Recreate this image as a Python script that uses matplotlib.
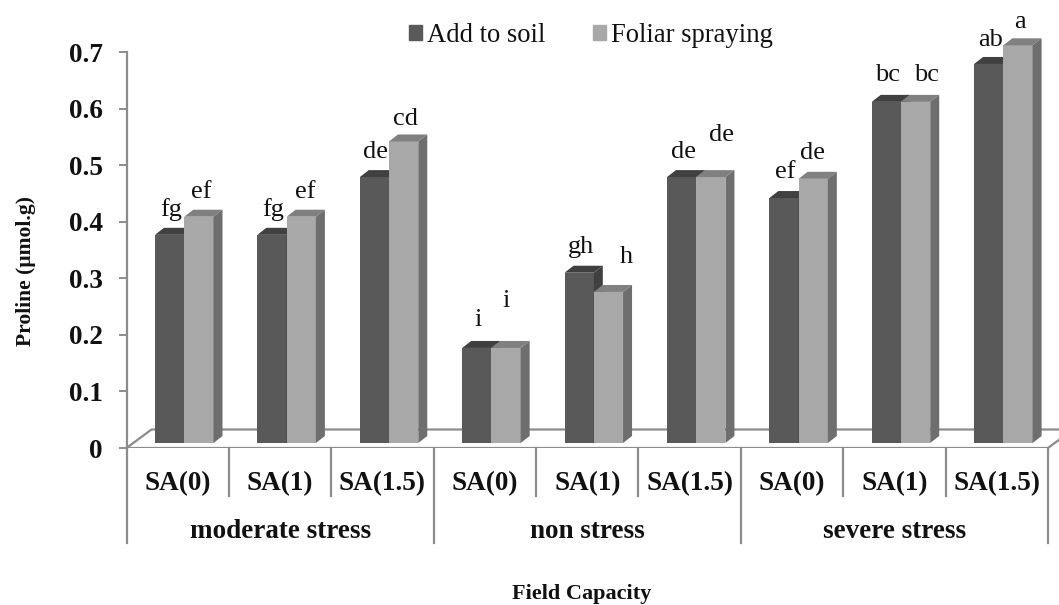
import matplotlib
matplotlib.use("Agg")
from matplotlib import pyplot as plt
from matplotlib.patches import Patch, Polygon
import numpy as np

plt.rcParams['font.family'] = ['Liberation Serif', 'DejaVu Sans']

sa_levels = ["SA(0)", "SA(1)", "SA(1.5)"] * 3
stress_groups = ["moderate stress", "non stress", "severe stress"]
add_to_soil = [0.368, 0.368, 0.47, 0.168, 0.301, 0.47, 0.433, 0.603, 0.67]
foliar = [0.40, 0.40, 0.533, 0.168, 0.267, 0.47, 0.467, 0.603, 0.703]
letters_soil = ["fg", "fg", "de", "i", "gh", "de", "ef", "bc", "ab"]
letters_foliar = ["ef", "ef", "cd", "i", "h", "de", "de", "bc", "a"]

# letter offsets from the top of the bar, in pixels
soil_dy = [25, 25, 25, 28, 26, 25, 26, 27, 24]
foliar_dx = [2, 4, 2, 0, 18, 11, -1, 11, 2]
foliar_dy = [25, 25, 22, 47, 35, 42, 26, 27, 23]

W, H = 1059, 605
AX_L, AX_R, AX_T, AX_B = 126.5, 1048, 52, 448
GRAY = "#8c8c8c"
TXT = "#111111"
DARK, DARK_TOP = "#595959", "#404040"
LIGHT, LIGHT_TOP, LIGHT_SIDE = "#a8a8a8", "#808080", "#6e6e6e"

fig = plt.figure(figsize=(W / 100, H / 100), dpi=100)
ax = fig.add_axes([AX_L / W, 1 - AX_B / H, (AX_R - AX_L) / W, (AX_B - AX_T) / H])
ax.set_xlim(0, 9)
ax.set_ylim(0, 0.7)

px_x = 9 / (AX_R - AX_L)
px_y = 0.7 / (AX_B - AX_T)
x = np.arange(9)
base = 5 * px_y
bar_w = 29.25 * px_x
start = (155 - AX_L) * px_x
depth_x, depth_y = 9 * px_x, 7 * px_y

# floor of the 3d box
floor_x, floor_y = 25 * px_x, 18.5 * px_y
ax.plot([0, floor_x, 9 + floor_x * 2], [0, floor_y, floor_y], color=GRAY, lw=1.6, clip_on=False, zorder=1)
ax.plot([9, 9 + floor_x], [0, floor_y], color=GRAY, lw=1.6, clip_on=False, zorder=1)


def box(left, val, front, top, side):
    b = ax.bar(left, val, bar_w, bottom=base, align='edge', color=front, zorder=3, clip_on=False)[0]
    r = left + bar_w
    y1 = val + base
    ax.add_patch(Polygon([(left, y1), (left + depth_x, y1 + depth_y), (r + depth_x, y1 + depth_y), (r, y1)],
                         color=top, lw=0, zorder=3, clip_on=False))
    ax.add_patch(Polygon([(r, base), (r + depth_x, base + depth_y), (r + depth_x, y1 + depth_y), (r, y1)],
                         color=side, lw=0, zorder=3, clip_on=False))
    return b


for i in x:
    box(i + start, add_to_soil[i], DARK, DARK_TOP, DARK_TOP)
    box(i + start + bar_w, foliar[i], LIGHT, LIGHT_TOP, LIGHT_SIDE)

    ax.annotate(letters_soil[i], (i + start + bar_w / 2, add_to_soil[i] + base),
                xytext=(1.5 * 0.72, soil_dy[i] * 0.72), textcoords='offset points', annotation_clip=False,
                ha='center', va='center', fontsize=19, color=TXT, zorder=5)
    ax.annotate(letters_foliar[i], (i + start + bar_w * 1.5, foliar[i] + base),
                xytext=(foliar_dx[i] * 0.72, foliar_dy[i] * 0.72), textcoords='offset points', annotation_clip=False,
                ha='center', va='center', fontsize=19, color=TXT, zorder=5)

# axes
for s in ['top', 'right', 'bottom']:
    ax.spines[s].set_visible(False)
ax.spines['left'].set_color(GRAY)
ax.spines['left'].set_linewidth(1.6)
ax.axhline(0, color=GRAY, lw=1.6, zorder=2)
ax.set_yticks(np.arange(0, 0.71, 0.1))
ax.set_yticklabels(["0", "0.1", "0.2", "0.3", "0.4", "0.5", "0.6", "0.7"], fontsize=19.5, fontweight='bold', color=TXT)
ax.tick_params(axis='y', color=GRAY, width=1.4, length=6, pad=11)
ax.set_xticks([])
ax.set_ylabel("Proline (µmol.g)", fontsize=15.5, fontweight='bold', color=TXT)
ax.yaxis.set_label_coords(-0.098, 0.447)

# two level category axis
short_y = -48 * px_y
long_y = -95 * px_y
for i in range(10):
    end = long_y if i % 3 == 0 else short_y
    ax.plot([i, i], [0, end], color=GRAY, lw=1.6, clip_on=False, zorder=2)
for i in x:
    ax.text(i + 0.5, -36 * px_y, sa_levels[i], ha='center', va='center', fontsize=19.5, fontweight='bold', color=TXT)
for i, g in enumerate(stress_groups):
    ax.text(i * 3 + 1.5, -83 * px_y, g, ha='center', va='center', fontsize=19.5, fontweight='bold', color=TXT)
ax.text(4.45, -146 * px_y, "Field Capacity", ha='center', va='center', fontsize=16, fontweight='bold', color=TXT)

handles = [Patch(color=DARK, label="Add to soil"), Patch(color=LIGHT, label="Foliar spraying")]
ax.legend(handles=handles, loc='center', bbox_to_anchor=(0.504, 1.041), ncol=2, frameon=False, fontsize=19.2,
          handlelength=0.49, handleheight=0.49, handletextpad=0.2, columnspacing=1.78, labelcolor=TXT)

fig.savefig("out.png", dpi=100)
